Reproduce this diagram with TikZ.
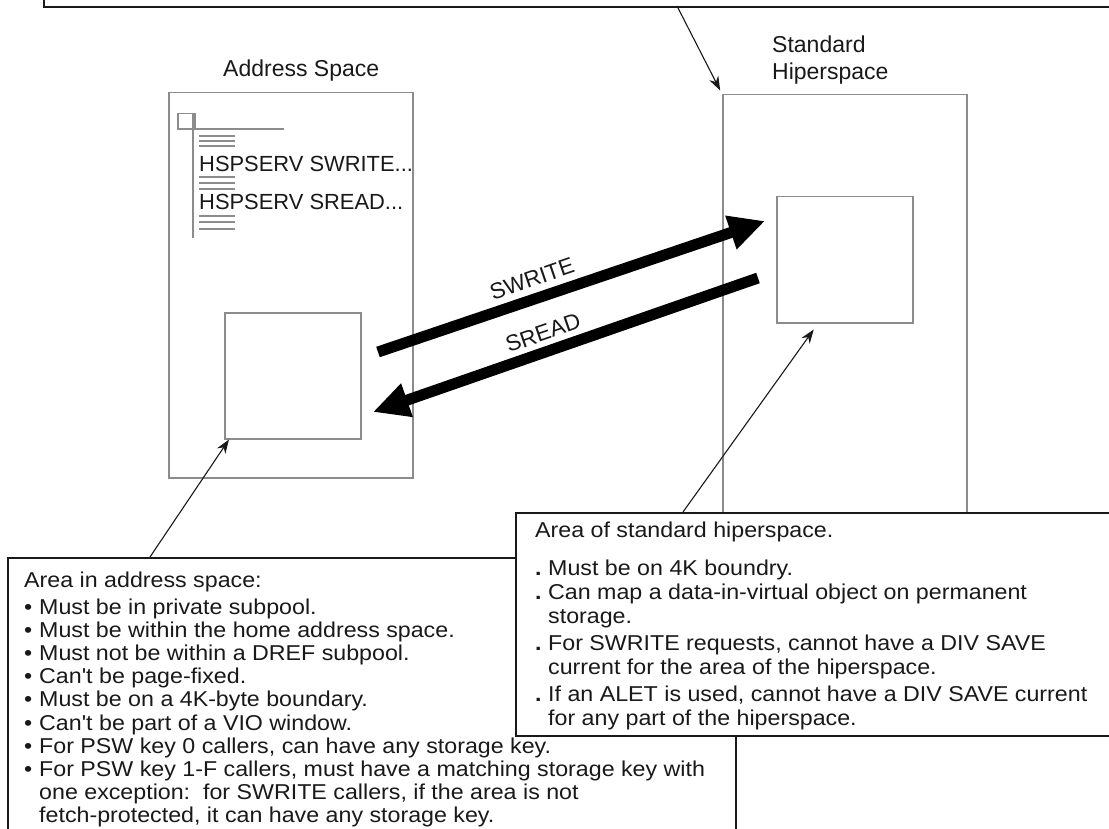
\documentclass[tikz,border=0pt]{standalone}
\usepackage{fontspec}
\setmainfont{Liberation Sans}
% the note boxes use a slightly wider setting of the same face
\newfontfamily\notefont[FakeStretch=1.08]{Liberation Sans}
\usetikzlibrary{arrows.meta,calc}
\definecolor{boxgray}{RGB}{140,140,140}
\definecolor{ink}{RGB}{25,25,25}
% bullets for the two note boxes
\newcommand\lbul{\makebox[15pt][l]{\textbullet}}
\newcommand\lind{\hspace*{15pt}}
\newcommand\rbul{\makebox[13pt][l]{\textbf{.}}}
\newcommand\rind{\hspace*{13pt}}
\begin{document}
\begin{tikzpicture}[x=1pt,y=-1pt,
  spacebox/.style={draw=boxgray, line width=1.5pt, inner sep=0pt, anchor=north west},
  notebox/.style={draw=ink, line width=2pt, fill=white, inner sep=0pt, anchor=north west},
  listline/.style={draw=boxgray, line width=1.5pt},
  thinarrow/.style={draw=ink, line width=1.1pt, -{Stealth[length=14pt,width=10pt]}},
  bigarrow/.style={draw=black, line width=11pt, -{Triangle[length=36pt,width=33pt]}},
  title/.style={inner sep=0pt, anchor=base west, text=ink, align=left,
                font=\fontsize{23}{27}\selectfont},
  code/.style={inner sep=0pt, anchor=base west, text=ink,
               font=\fontsize{21.9}{24}\selectfont},
  flowlabel/.style={inner sep=0pt, rotate=19, text=ink,
                    font=\fontsize{22.5}{22.5}\selectfont}]
\useasboundingbox (0,0) rectangle (1109,829);
\clip (0,0) rectangle (1109,829);

% note box at the top, only its lower edge shows
\node[notebox, minimum width=1200pt, minimum height=206pt] (topnote) at (43,-200) {};
\coordinate (topfoot) at (677,6);

% address space with its program listing
\node[title] (astitle) at (223,77) {Address Space};
\node[spacebox, minimum width=244pt, minimum height=385pt] (asbox) at (168,92) {};
\node[spacebox, minimum width=17pt, minimum height=16pt] (csect) at (177,113) {};
\draw[listline] (177,129) -- (284,129);
\draw[listline] (193,113) -- (193,238);
\foreach \yy in {136,141,146,177,183,189,216,222,229}
  \draw[listline] (199,\yy) -- (235,\yy);
\node[code] (swcall) at (199,172) {HSPSERV SWRITE...};
\node[code] (srcall) at (199,210) {HSPSERV SREAD...};
\node[spacebox, minimum width=136pt, minimum height=126pt] (asarea) at (224,312) {};

% standard hiperspace (base anchor sits on the last line)
\node[title] (hstitle) at (772,80) {Standard\\Hiperspace};
\node[spacebox, minimum width=244pt, minimum height=560pt] (hsbox) at (722,94) {};
\node[spacebox, minimum width=136pt, minimum height=126pt] (hsarea) at (776,196) {};

\draw[thinarrow, shorten >=4pt] (topfoot) -- (hsbox.north west);

% transfers between the two areas
\coordinate (swtail) at (378,352);
\coordinate (swhead) at (765,221);
\coordinate (srtail) at (758,278);
\coordinate (srhead) at (373,412);
\draw[bigarrow] (swtail) -- (swhead);
\draw[bigarrow] (srtail) -- (srhead);
\node[flowlabel] (swlabel) at (532,279) {SWRITE};
\node[flowlabel] (srlabel) at (543,333) {SREAD};

% notes on the address space area
\node[notebox, minimum width=728pt, minimum height=400pt] (asnote) at (7,557) {};
\coordinate (asnotefoot) at (150,557);
\draw[thinarrow] (asnotefoot) -- ([xshift=5pt]asarea.south west);
\node[inner sep=0pt, anchor=base west, text=ink] (astext) at (24,587) {\parbox[t]{705pt}{\raggedright
\notefont\fontsize{21.5}{23.2}\selectfont
Area in address space:\\[3.8pt]
\lbul Must be in private subpool.\\
\lbul Must be within the home address space.\\
\lbul Must not be within a DREF subpool.\\
\lbul Can't be page-fixed.\\
\lbul Must be on a 4K-byte boundary.\\
\lbul Can't be part of a VIO window.\\
\lbul For PSW key 0 callers, can have any storage key.\\
\lbul For PSW key 1-F callers, must have a matching storage key with\\
\lind one exception:\ \ for SWRITE callers, if the area is not\\
\lind fetch-protected, it can have any storage key.}};

% notes on the hiperspace area
\node[notebox, minimum width=700pt, minimum height=223pt] (hsnote) at (515,512) {};
\coordinate (hsnotefoot) at (683,512);
\draw[thinarrow] (hsnotefoot) -- ($(hsarea.south)+(-31,6)$);
\node[inner sep=0pt, anchor=base west, text=ink] (hstext) at (535,537) {\parbox[t]{570pt}{\raggedright
\notefont\fontsize{21.5}{24}\selectfont
Area of standard hiperspace.\\[14pt]
\rbul Must be on 4K boundry.\\
\rbul Can map a data-in-virtual object on permanent\\
\rind storage.\\[3pt]
\rbul For SWRITE requests, cannot have a DIV SAVE\\
\rind current for the area of the hiperspace.\\[3pt]
\rbul If an ALET is used, cannot have a DIV SAVE current\\
\rind for any part of the hiperspace.}};
\end{tikzpicture}
\end{document}
